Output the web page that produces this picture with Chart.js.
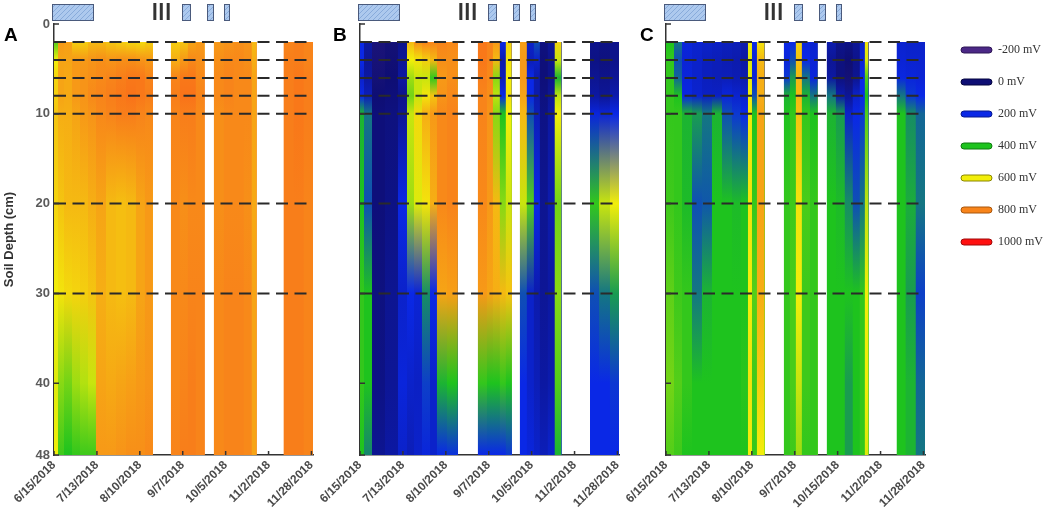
<!DOCTYPE html>
<html>
<head>
<meta charset="utf-8">
<script src="https://cdn.jsdelivr.net/npm/chart.js@4.4.1/dist/chart.umd.min.js"></script>
<style>
  body { margin: 0; background: #fff; width: 1052px; height: 519px; overflow: hidden; position: relative; }
  canvas { position: absolute; top: 0; }
</style>
</head>
<body>
<canvas id="chartA" width="320" height="519" style="left:0px"></canvas>
<canvas id="chartB" width="310" height="519" style="left:318px"></canvas>
<canvas id="chartC" width="312" height="519" style="left:624px"></canvas>
<canvas id="legendCanvas" width="111" height="300" style="left:941px"></canvas>
<script>
// depths (cm) where redox was read, and reference lines
const depths = [2, 4, 6, 8, 10, 20, 30, 40, 48];
const depthLines = [2, 4, 6, 8, 10, 20, 30];
const yTicks = [0, 10, 20, 30, 40, 48];

// x axis = days after 6/15/2018
const dayMax = 169;
const xTickDays = [0, 28, 56, 84, 112, 140, 168];
const xLabelsAB = ["6/15/2018", "7/13/2018", "8/10/2018", "9/7/2018", "10/5/2018", "11/2/2018", "11/28/2018"];
const xLabelsC = ["6/15/2018", "7/13/2018", "8/10/2018", "9/7/2018", "10/15/2018", "11/2/2018", "11/28/2018"];

// legend / colour scale
const legendLabels = ["-200 mV", "0 mV", "200 mV", "400 mV", "600 mV", "800 mV", "1000 mV"];
const legendValues = [-200, 0, 200, 400, 600, 800, 1000];
const legendColors = ["#4b2886", "#0e0e74", "#0a28e6", "#1ec31e", "#f2ee0a", "#f8841a", "#ff1010"];
const legendBorders = ["#2e1656", "#05053e", "#061890", "#0f7a0f", "#8a8600", "#a8560c", "#a00808"];

// events on top (days)
const irrigationBoxes = [[-1.5, 25.5], [83.5, 88.5], [100, 104], [111, 114.5]];
const floodBars = [65.8, 70, 74.5];

// ---------- panel A : columns [start, end] and redox (mV) at depths ----------
const colsA = [
  [0, 2.6], [2.6, 6.5], [6.5, 11.7], [11.7, 16.9], [16.9, 22.1], [22.1, 27.3],
  [27.3, 33.9], [33.9, 40.4], [40.4, 46.9], [46.9, 53.4], [53.4, 59.2], [59.2, 64.5],
  [76.2, 82], [82, 87.2], [87.2, 92.4], [92.4, 98.3],
  [104.2, 110.7], [110.7, 117.2], [117.2, 123.7], [123.7, 128.9], [128.9, 132.2],
  [149.7, 156.2], [156.2, 162.8], [162.8, 169]
];
const redoxA = [
  [450, 600, 650, 660, 680, 650, 600, 580, 600],
  [760, 740, 740, 740, 720, 680, 620, 500, 430],
  [750, 740, 730, 730, 720, 700, 640, 480, 400],
  [660, 760, 760, 760, 740, 700, 650, 520, 420],
  [660, 760, 770, 770, 760, 700, 660, 540, 430],
  [700, 770, 780, 790, 770, 720, 680, 560, 430],
  [700, 780, 790, 800, 790, 740, 720, 740, 760],
  [680, 770, 800, 810, 800, 700, 700, 730, 760],
  [660, 780, 810, 820, 810, 690, 690, 740, 770],
  [650, 780, 820, 830, 810, 700, 700, 750, 780],
  [640, 770, 820, 820, 800, 740, 740, 760, 780],
  [660, 760, 800, 810, 790, 760, 760, 770, 790],
  [660, 720, 800, 810, 800, 790, 790, 790, 800],
  [680, 760, 820, 830, 810, 780, 790, 800, 810],
  [740, 790, 820, 830, 810, 790, 800, 810, 810],
  [760, 780, 790, 800, 790, 790, 800, 800, 800],
  [760, 780, 790, 790, 780, 780, 790, 790, 790],
  [770, 790, 800, 800, 790, 790, 800, 800, 800],
  [780, 790, 790, 790, 790, 790, 800, 800, 800],
  [770, 780, 790, 790, 790, 780, 790, 790, 790],
  [700, 720, 740, 740, 740, 730, 740, 740, 740],
  [800, 810, 810, 810, 810, 810, 810, 810, 810],
  [810, 810, 820, 820, 820, 810, 810, 810, 810],
  [800, 800, 810, 810, 810, 800, 800, 800, 800]
];

// ---------- panel B ----------
const colsB = [
  [0, 2.6], [2.6, 7.8], [7.8, 16.3], [16.3, 24.7], [24.7, 30.6], [30.6, 35.2],
  [35.2, 40.4], [40.4, 45.6], [45.6, 50.1], [50.1, 56.6], [56.6, 63.8],
  [76.8, 82.7], [82.7, 86.6], [86.6, 91.1], [91.1, 95], [95, 99],
  [104.2, 108.7], [108.7, 113.3], [113.3, 117.2], [117.2, 122.4], [122.4, 126.9], [126.9, 131.5],
  [150, 156], [156, 163], [163, 169]
];
const redoxB = [
  [200, 200, 150, 200, 380, 400, 420, 420, 400],
  [80, 60, 80, 120, 300, 250, 400, 400, 320],
  [-40, -30, -20, 0, 10, 10, 20, 30, 50],
  [-20, -10, 0, 10, 20, 30, 50, 60, 80],
  [40, 60, 80, 40, 60, 200, 150, 180, 150],
  [700, 600, 520, 480, 560, 520, 200, 150, 120],
  [780, 620, 560, 560, 640, 580, 170, 140, 150],
  [800, 660, 560, 620, 720, 620, 330, 230, 180],
  [800, 700, 420, 680, 760, 720, 200, 150, 150],
  [800, 780, 760, 770, 790, 790, 740, 380, 200],
  [790, 780, 780, 790, 800, 800, 750, 400, 210],
  [820, 820, 810, 800, 800, 790, 760, 420, 200],
  [800, 800, 790, 780, 770, 760, 740, 400, 200],
  [760, 700, 500, 550, 500, 700, 720, 400, 200],
  [200, 100, 120, 200, 400, 500, 700, 420, 200],
  [650, 620, 600, 620, 600, 560, 680, 400, 220],
  [750, 760, 760, 740, 700, 560, 250, 200, 200],
  [150, 120, 200, 200, 250, 450, 150, 150, 180],
  [250, 150, 100, 100, 120, 200, 100, 120, 150],
  [20, 10, 10, 20, 30, 50, 60, 80, 120],
  [60, 40, 40, 60, 80, 100, 80, 100, 150],
  [650, 560, 380, 550, 600, 480, 500, 450, 380],
  [40, 30, 50, 80, 180, 420, 250, 200, 200],
  [30, 20, 40, 60, 170, 560, 300, 200, 200],
  [40, 40, 60, 100, 200, 600, 350, 220, 200]
];

// ---------- panel C ----------
const colsC = [
  [0, 5.2], [5.2, 10.4], [10.4, 16.9], [16.9, 23.4], [23.4, 29.9], [29.9, 36.5],
  [36.5, 43], [43, 48.8], [48.8, 53.4], [53.4, 56], [56, 59.2], [59.2, 64.4],
  [76.8, 80.7], [80.7, 84.6], [84.6, 88.5], [88.5, 93.8], [93.8, 99],
  [104.8, 110.7], [110.7, 116.5], [116.5, 121.7], [121.7, 126.3], [126.3, 129.6], [129.6, 132.2],
  [150.4, 156.2], [156.2, 162.8], [162.8, 169]
];
const redoxC = [
  [400, 420, 420, 420, 420, 430, 460, 480, 450],
  [300, 250, 280, 400, 420, 420, 430, 450, 430],
  [180, 170, 180, 190, 380, 390, 420, 420, 400],
  [160, 150, 150, 160, 350, 250, 300, 400, 400],
  [150, 130, 130, 140, 300, 260, 380, 400, 400],
  [140, 120, 120, 140, 380, 400, 400, 400, 400],
  [130, 110, 120, 180, 250, 400, 400, 400, 400],
  [120, 100, 110, 160, 220, 390, 400, 400, 400],
  [100, 80, 100, 150, 200, 400, 400, 410, 400],
  [600, 580, 590, 600, 610, 620, 600, 620, 600],
  [200, 170, 170, 250, 400, 420, 450, 430, 420],
  [620, 700, 720, 720, 740, 740, 720, 660, 600],
  [200, 180, 220, 380, 400, 420, 420, 420, 420],
  [200, 250, 350, 400, 420, 430, 440, 440, 430],
  [650, 680, 700, 700, 680, 620, 600, 560, 520],
  [180, 200, 300, 380, 420, 440, 430, 430, 420],
  [160, 170, 180, 300, 400, 420, 420, 420, 420],
  [100, 60, 80, 300, 380, 400, 400, 400, 400],
  [40, 20, 20, 100, 350, 390, 400, 400, 400],
  [30, 0, -20, 60, 150, 330, 400, 350, 350],
  [60, 40, 50, 150, 200, 250, 400, 400, 400],
  [150, 170, 200, 200, 220, 300, 420, 420, 420],
  [620, 580, 450, 400, 450, 550, 600, 600, 580],
  [160, 170, 190, 300, 400, 400, 400, 400, 400],
  [150, 160, 180, 220, 330, 370, 350, 380, 380],
  [150, 160, 170, 200, 280, 300, 230, 280, 300]
];

Chart.defaults.font.family = '"Liberation Sans", Arial, sans-serif';

const stopRgb = legendColors.map((h) => [1, 3, 5].map((i) => parseInt(h.slice(i, i + 2), 16)));

function redoxColor(v) {
  if (v <= legendValues[0]) return `rgb(${stopRgb[0].join(",")})`;
  for (let i = 1; i < legendValues.length; i++) {
    if (v <= legendValues[i]) {
      const t = (v - legendValues[i - 1]) / (legendValues[i] - legendValues[i - 1]);
      const c = stopRgb[i].map((b, k) => Math.round(stopRgb[i - 1][k] + (b - stopRgb[i - 1][k]) * t));
      return `rgb(${c.join(",")})`;
    }
  }
  return `rgb(${stopRgb[stopRgb.length - 1].join(",")})`;
}

// vertical gradient of one column, built on the y scale
function columnFill(values) {
  return (ctx) => {
    const chart = ctx.chart;
    const y = chart.scales.y;
    if (!chart.chartArea || !y) return redoxColor(values[0]);
    const top = y.getPixelForValue(depths[0]);
    const bottom = y.getPixelForValue(depths[depths.length - 1]);
    const g = chart.ctx.createLinearGradient(0, top, 0, bottom);
    depths.forEach((d, i) => {
      g.addColorStop((y.getPixelForValue(d) - top) / (bottom - top), redoxColor(values[i]));
    });
    return g;
  };
}

// each column is filled from its start to the end of its run of
// touching columns; later columns paint over, so no seams show
function panelDatasets(cols, values) {
  const runEnd = cols.map((c) => c[1]);
  for (let i = cols.length - 2; i >= 0; i--) {
    if (cols[i + 1][0] === cols[i][1]) runEnd[i] = runEnd[i + 1];
  }
  const lines = depthLines.map((d) => ({
    data: [{ x: 0, y: d }, { x: dayMax, y: d }],
    borderColor: "#2a2a2a",
    borderWidth: 2,
    borderDash: [12, 6.5],
    pointRadius: 0,
    fill: false,
    order: 0,
  }));
  const cells = cols.map((c, i) => ({
    data: [{ x: c[0], y: depths[0] }, { x: runEnd[i], y: depths[0] }],
    borderWidth: 0,
    borderColor: "rgba(0,0,0,0)",
    pointRadius: 0,
    fill: { value: depths[depths.length - 1] },
    backgroundColor: columnFill(values[i]),
    order: cols.length - i,
  }));
  return lines.concat(cells);
}

let hatch;
function getHatch(ctx) {
  if (hatch) return hatch;
  const c = document.createElement("canvas");
  c.width = 5;
  c.height = 5;
  const g = c.getContext("2d");
  g.fillStyle = "#adc9ee";
  g.fillRect(0, 0, 5, 5);
  g.strokeStyle = "#88abdb";
  g.lineWidth = 1;
  g.beginPath();
  g.moveTo(0, 5);
  g.lineTo(5, 0);
  g.stroke();
  hatch = ctx.createPattern(c, "repeat");
  return hatch;
}

// letter, event markers on top, inward tick marks
const panelDecor = {
  id: "panelDecor",
  afterDraw(chart, args, opts) {
    const { ctx, chartArea } = chart;
    const x = chart.scales.x;
    const y = chart.scales.y;
    ctx.save();
    ctx.fillStyle = "#000";
    ctx.font = 'bold 19px "Liberation Sans", Arial, sans-serif';
    ctx.textBaseline = "alphabetic";
    ctx.textAlign = "left";
    ctx.fillText(opts.letter, opts.letterX, 41);

    irrigationBoxes.forEach((b) => {
      const x0 = Math.round(x.getPixelForValue(b[0])) + 0.5;
      const x1 = Math.round(x.getPixelForValue(b[1])) + 0.5;
      ctx.fillStyle = getHatch(ctx);
      ctx.fillRect(x0, 4.5, x1 - x0, 16);
      ctx.strokeStyle = "#4a5a7c";
      ctx.lineWidth = 1;
      ctx.strokeRect(x0, 4.5, x1 - x0, 16);
    });
    ctx.fillStyle = "#333";
    floodBars.forEach((d) => {
      const px = x.getPixelForValue(d);
      ctx.fillRect(px - 1.5, 3, 3, 17);
    });

    ctx.strokeStyle = "#333";
    ctx.lineWidth = 1.5;
    ctx.beginPath();
    yTicks.forEach((v) => {
      const py = y.getPixelForValue(v);
      ctx.moveTo(chartArea.left, py);
      ctx.lineTo(chartArea.left + 5, py);
    });
    xTickDays.forEach((v) => {
      const px = x.getPixelForValue(v);
      ctx.moveTo(px, chartArea.bottom);
      ctx.lineTo(px, chartArea.bottom - 4);
    });
    ctx.stroke();
    ctx.restore();
  },
};

function makePanel(id, cols, values, p) {
  return new Chart(document.getElementById(id), {
    type: "line",
    data: { datasets: panelDatasets(cols, values) },
    plugins: [panelDecor],
    options: {
      responsive: false,
      animation: false,
      events: [],
      layout: { padding: { left: 0, top: 24, right: p.padRight, bottom: 0 } },
      plugins: {
        legend: { display: false },
        tooltip: { enabled: false },
        panelDecor: { letter: p.letter, letterX: p.letterX },
      },
      scales: {
        x: {
          type: "linear",
          min: 0,
          max: dayMax,
          grid: { display: false, drawTicks: false },
          border: { display: true, color: "#333", width: 1.5 },
          afterBuildTicks: (s) => { s.ticks = xTickDays.map((v) => ({ value: v })); },
          afterFit: (s) => { s.height = 64; s.paddingLeft = 0; s.paddingRight = 0; },
          ticks: {
            autoSkip: false,
            minRotation: 45,
            maxRotation: 45,
            padding: 3,
            color: "#4a4a4a",
            font: { size: 12, weight: "bold" },
            callback: (v, i) => p.labels[i],
          },
        },
        y: {
          type: "linear",
          reverse: true,
          min: 0,
          max: 48,
          grid: { display: false, drawTicks: false },
          border: { display: true, color: "#333", width: 1.5 },
          afterBuildTicks: (s) => { s.ticks = yTicks.map((v) => ({ value: v })); },
          afterFit: (s) => { s.width = p.yWidth; s.paddingTop = 0; s.paddingBottom = 0; },
          title: {
            display: p.showY,
            text: "Soil Depth (cm)",
            color: "#333",
            font: { size: 13, weight: "bold" },
            padding: { top: 2, bottom: 0 },
          },
          ticks: { display: p.showY, padding: 4, color: "#5a5a5a", font: { size: 13, weight: "bold" } },
        },
      },
    },
  });
}

makePanel("chartA", colsA, redoxA, { letter: "A", letterX: 4, padRight: 7, yWidth: 54, showY: true, labels: xLabelsAB });
makePanel("chartB", colsB, redoxB, { letter: "B", letterX: 15, padRight: 9, yWidth: 42, showY: false, labels: xLabelsAB });
makePanel("chartC", colsC, redoxC, { letter: "C", letterX: 16, padRight: 11, yWidth: 42, showY: false, labels: xLabelsC });

// colour legend
new Chart(document.getElementById("legendCanvas"), {
  type: "line",
  data: {
    datasets: legendLabels.map((l, i) => ({
      label: l,
      data: [],
      backgroundColor: legendColors[i],
      borderColor: legendBorders[i],
      borderWidth: 1,
    })),
  },
  options: {
    responsive: false,
    animation: false,
    events: [],
    layout: { padding: { left: 0, top: 24, right: 0, bottom: 0 } },
    scales: { x: { display: false }, y: { display: false } },
    plugins: {
      tooltip: { enabled: false },
      legend: {
        position: "left",
        align: "start",
        maxWidth: 111,
        labels: {
          boxWidth: 31,
          boxHeight: 6,
          padding: 20,
          useBorderRadius: true,
          borderRadius: 3,
          color: "#333",
          font: { family: '"Liberation Serif", "Times New Roman", serif', size: 12 },
        },
      },
    },
  },
});
</script>
</body>
</html>
